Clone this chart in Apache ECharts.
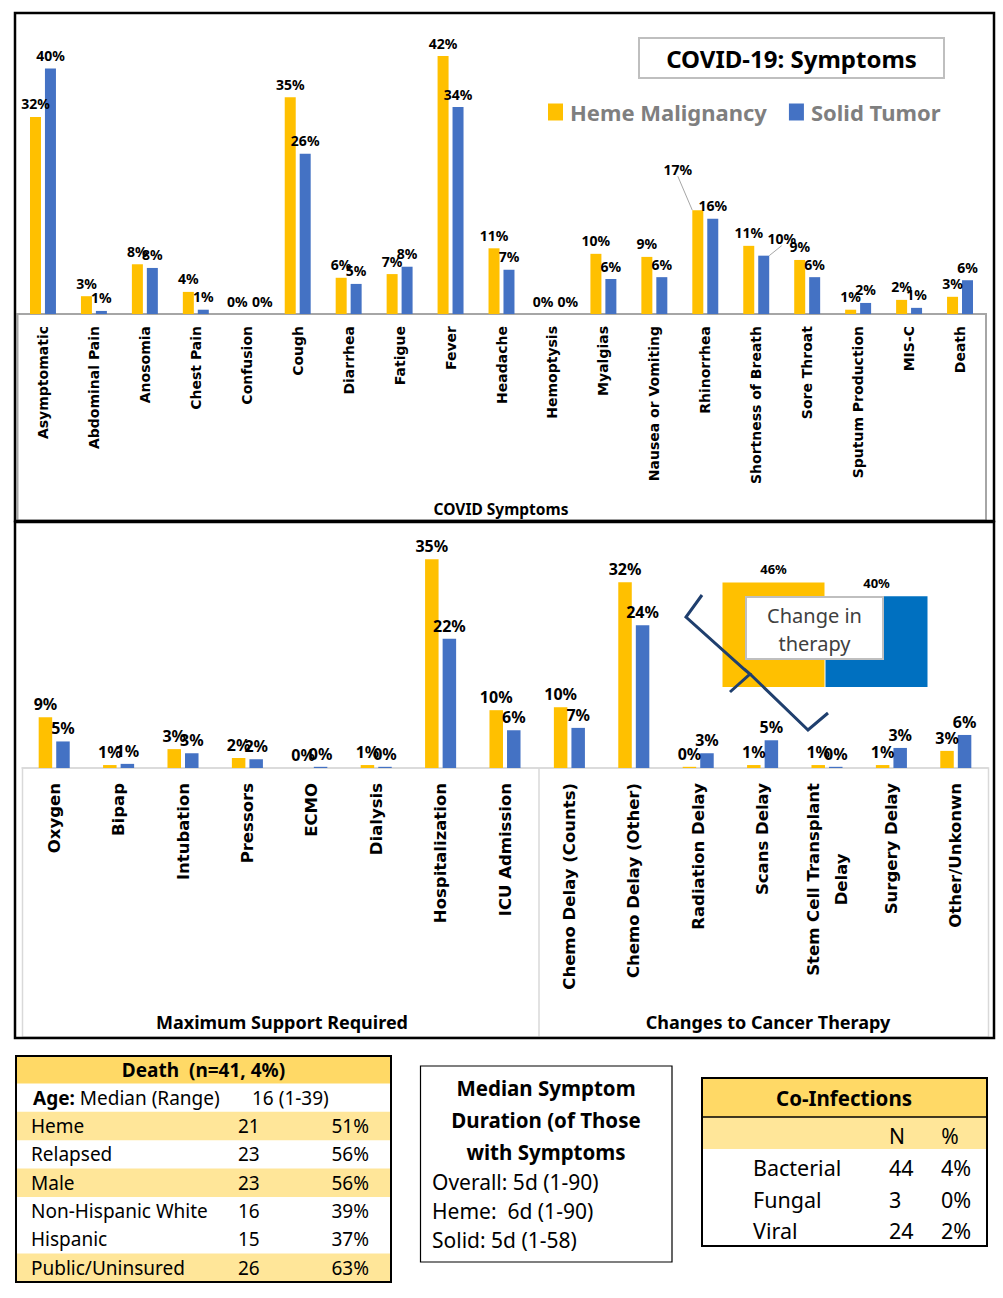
<!DOCTYPE html>
<html>
<head>
<meta charset="utf-8">
<script src="https://cdn.jsdelivr.net/npm/echarts@6/dist/echarts.min.js"></script>
<style>
html,body{margin:0;padding:0;background:#fff;}
#c{width:1003px;height:1298px;}
</style>
</head>
<body>
<div id="c"></div>
<script>
// ---------- DATA ----------
var seriesNames = ['Heme Malignancy', 'Solid Tumor'];
var symptomCats = ['Asymptomatic','Abdominal Pain','Anosomia','Chest Pain','Confusion','Cough','Diarrhea','Fatigue','Fever','Headache','Hemoptysis','Myalgias','Nausea or Vomiting','Rhinorrhea','Shortness of Breath','Sore Throat','Sputum Production','MIS-C','Death'];
var symptomHeme  = [32.1, 2.9, 8.1, 3.6, 0, 35.3, 5.9, 6.5, 42, 10.7, 0, 9.8, 9.3, 16.9, 11.1, 8.8, 0.7, 2.3, 2.8];
var symptomSolid = [40, 0.5, 7.5, 0.7, 0, 26.1, 4.9, 7.7, 33.7, 7.2, 0, 5.7, 6.0, 15.5, 9.5, 6.0, 1.8, 1.0, 5.5];

var supportCats = ['Oxygen','Bipap','Intubation','Pressors','ECMO','Dialysis','Hospitalization','ICU Admission','Chemo Delay (Counts)','Chemo Delay (Other)','Radiation Delay','Scans Delay','Stem Cell Transplant\nDelay','Surgery Delay','Other/Unkonwn'];
var supportHeme  = [8.6, 0.5, 3.2, 1.7, 0, 0.5, 35.4, 9.8, 10.3, 31.5, 0.2, 0.5, 0.5, 0.5, 2.9];
var supportSolid = [4.5, 0.7, 2.5, 1.5, 0.2, 0.2, 21.9, 6.4, 6.8, 24.2, 2.5, 4.7, 0.2, 3.4, 5.6];
var groupLabels = ['Maximum Support Required', 'Changes to Cancer Therapy'];

var changeCats = ['Heme Malignancy', 'Solid Tumor'];
var changeValues = [46, 40];

var deathTitle = 'Death\u00a0 (n=41, 4%)';
var deathAgeLabel = 'Median (Range)';
var deathAgeValue = '16 (1-39)';
var deathLabels = ['Heme','Relapsed','Male','Non-Hispanic White','Hispanic','Public/Uninsured'];
var deathN = [21, 23, 23, 16, 15, 26];
var deathPct = ['51%','56%','56%','39%','37%','63%'];

var durationTitle = ['Median Symptom','Duration (of Those','with Symptoms'];
var durationLines = ['Overall: 5d (1-90)','Heme:\u00a0 6d (1-90)','Solid: 5d (1-58)'];

var coTitle = 'Co-Infections';
var coLabels = ['Bacterial','Fungal','Viral'];
var coN = [44, 3, 24];
var coPct = ['4%','0%','2%'];

// ---------- STYLE ----------
var YEL = '#FFC000', BLU = '#4472C4', BLU2 = '#0070C0';
var F = 'Noto Sans';
var AXF = 'DejaVu Sans';

function pct(p){ return Math.round(p.value) + '%'; }

var chart = echarts.init(document.getElementById('c'), null, {renderer:'svg', width:1003, height:1298});

var g = [];
function txt(x, y, s, o){
  o = o || {};
  g.push({type:'text', x:x, y:y, z:o.z||20, style:{text:s, fill:o.fill||'#000', font:(o.bold?'bold ':'') + (o.size||19) + 'px "' + (o.family||F) + '"', align:o.align||'left', verticalAlign:'middle', lineHeight:o.lineHeight, rich:o.rich}});
}
function rect(x, y, w, h, o){
  g.push({type:'rect', z:o.z||5, shape:{x:x, y:y, width:w, height:h}, style:{fill:o.fill||'none', stroke:o.stroke||null, lineWidth:o.lw||0}});
}
function line(x1,y1,x2,y2,o){
  g.push({type:'line', z:o.z||10, shape:{x1:x1,y1:y1,x2:x2,y2:y2}, style:{stroke:o.stroke, lineWidth:o.lw}});
}

// gray label boxes
rect(17.5, 314, 968.5, 206.5, {stroke:'#a6a6a6', lw:2, z:2});
rect(22.5, 768, 966, 269, {stroke:'#d9d9d9', lw:1.5, z:2});
line(539, 768, 539, 1037, {stroke:'#d9d9d9', lw:1.5, z:2});
// frames
rect(15, 13, 979, 508, {stroke:'#000', lw:2.5, z:30});
rect(15, 522, 979, 516, {stroke:'#000', lw:2.5, z:30});
// title box
rect(639, 38, 305, 40, {stroke:'#bfbfbf', lw:2, z:8, fill:'#fff'});
// axis group names
txt(501, 509, 'COVID Symptoms', {bold:true, size:15.5, align:'center'});
txt(282, 1022, groupLabels[0], {bold:true, size:18, align:'center'});
txt(768, 1022, groupLabels[1], {bold:true, size:18, align:'center'});

// change in therapy box + brace
rect(746, 597, 137, 62, {stroke:'#bfbfbf', lw:2, fill:'#fff', z:15});
txt(814.5, 629, 'Change in\ntherapy', {size:20, align:'center', fill:'#404040', lineHeight:28});
g.push({type:'polyline', z:25, shape:{points:[[702,595],[686,617],[744,669],[750,674],[730,692]]}, style:{stroke:'#1f3f6e', lineWidth:3, fill:'none'}});
g.push({type:'polyline', z:25, shape:{points:[[750,674],[808,730],[828,713]]}, style:{stroke:'#1f3f6e', lineWidth:3, fill:'none'}});

// Death table
var dx0 = 16, dy0 = 1056, dw = 375, rowH = 28.35;
var deathHighlight = [0,1,0,1,0,0,1];
rect(dx0, dy0, dw, 27.5, {fill:'#FFD966', z:4});
for (var i = 0; i < 7; i++){
  if (deathHighlight[i]) rect(dx0, 1083.5 + i*rowH, dw, rowH, {fill:'#FFE699', z:4});
}
rect(dx0, dy0, dw, 226, {stroke:'#000', lw:2, z:12});
txt(203.5, 1070, deathTitle, {bold:true, size:19, align:'center'});
txt(33, 1098, '{b|Age:} ' + deathAgeLabel, {size:19, rich:{b:{fontWeight:'bold', fontSize:19, fontFamily:F}}});
txt(252, 1098, deathAgeValue, {size:19});
for (var j = 0; j < deathLabels.length; j++){
  var cy = 1083.5 + (j+1)*rowH + rowH/2;
  txt(31, cy, deathLabels[j], {size:19});
  txt(238, cy, String(deathN[j]), {size:19});
  txt(369, cy, deathPct[j], {size:19, align:'right'});
}

// Median duration box
rect(420.5, 1066, 251.5, 196, {stroke:'#000', lw:1.2, z:12});
var dTY = [1088, 1120, 1152];
for (var k = 0; k < durationTitle.length; k++) txt(546, dTY[k], durationTitle[k], {bold:true, size:20.5, align:'center'});
var dLY = [1182, 1211, 1240];
for (var m = 0; m < durationLines.length; m++) txt(432, dLY[m], durationLines[m], {size:21});

// Co-infections table
rect(702, 1078, 285, 39, {fill:'#FFD966', z:4});
rect(702, 1117, 285, 32, {fill:'#FFE699', z:4});
line(702, 1117, 987, 1117, {stroke:'#000', lw:1.5, z:12});
rect(702, 1078, 285, 168, {stroke:'#000', lw:2, z:12});
txt(844, 1098, coTitle, {bold:true, size:20.5, align:'center'});
txt(897, 1136, 'N', {size:21, align:'center'});
txt(950, 1136, '%', {size:21, align:'center'});
var coY = [1167, 1199, 1230];
for (var n = 0; n < coLabels.length; n++){
  txt(753, coY[n], coLabels[n], {size:21.5});
  txt(889, coY[n], String(coN[n]), {size:21.5});
  txt(941, coY[n], coPct[n], {size:21.5});
}

var topLabel = {show:true, position:'top', distance:6, formatter:pct, color:'#000', fontFamily:F, fontWeight:'bold', fontSize:14};
var botLabel = {show:true, position:'top', distance:5, formatter:pct, color:'#000', fontFamily:F, fontWeight:'bold', fontSize:16};

// label moved with a guide line: Rhinorrhea (heme) and Shortness of Breath (solid)
var hemeTopData = symptomHeme.map(function(v, i){ return {value:v, labelLine:{show: i === 13}}; });
var solidTopData = symptomSolid.map(function(v, i){ return {value:v, labelLine:{show: i === 14}}; });

var option = {
  backgroundColor:'#fff',
  animation:false,
  title:{text:'COVID-19: Symptoms', left:791.5, top:58, textAlign:'center', textVerticalAlign:'middle', padding:0, textStyle:{fontFamily:F, fontWeight:'bold', fontSize:24, color:'#000'}, z:10},
  legend:{data:seriesNames, left:543, top:96, icon:'rect', itemWidth:15, itemHeight:17, itemGap:22, textStyle:{fontFamily:F, fontWeight:'bold', fontSize:22, color:'#7f7f7f', padding:[0,0,0,2]}},
  grid:[
    {left:17.5, top:37.7, width:968, height:276.3},
    {left:22, top:532, width:966, height:236},
    {left:722, top:573.5, width:206, height:113.5}
  ],
  xAxis:[
    {type:'category', gridIndex:0, data:symptomCats, axisTick:{show:false}, axisLine:{lineStyle:{color:'#a6a6a6', width:2}},
     axisLabel:{interval:0, rotate:90, margin:12, color:'#000', fontFamily:AXF, fontWeight:'bold', fontSize:14}},
    {type:'category', gridIndex:1, data:supportCats, axisTick:{show:false}, axisLine:{lineStyle:{color:'#d9d9d9', width:1.5}},
     axisLabel:{interval:0, rotate:90, margin:15, color:'#000', fontFamily:AXF, fontWeight:'bold', fontSize:16.5,
       formatter:function(v){ if (v.indexOf('\n') >= 0){ var p = v.split('\n'); return '{a|' + p[0] + '}\n{c|' + p[1] + '}'; } return v; },
       rich:{a:{fontFamily:AXF, fontWeight:'bold', fontSize:16.5, lineHeight:28, color:'#000'}, c:{fontFamily:AXF, fontWeight:'bold', fontSize:16.5, lineHeight:28, align:'center', color:'#000'}}}},
    {type:'category', gridIndex:2, data:changeCats, show:false}
  ],
  yAxis:[
    {type:'value', gridIndex:0, min:0, max:45, show:false},
    {type:'value', gridIndex:1, min:0, max:40, show:false},
    {type:'value', gridIndex:2, min:0, max:50, show:false}
  ],
  series:[
    {name:seriesNames[0], type:'bar', xAxisIndex:0, yAxisIndex:0, data:hemeTopData, barWidth:11, barGap:'36%', itemStyle:{color:YEL}, label:topLabel,
     labelLine:{show:true, lineStyle:{color:'#a6a6a6', width:1}},
     labelLayout:function(p){ if (p.dataIndex === 13) return {dx:-20, dy:-28}; if (p.dataIndex === 4 || p.dataIndex === 10) return {dx:-2}; return {}; }},
    {name:seriesNames[1], type:'bar', xAxisIndex:0, yAxisIndex:0, data:solidTopData, barWidth:11, barGap:'36%', itemStyle:{color:BLU}, label:topLabel,
     labelLine:{show:true, lineStyle:{color:'#a6a6a6', width:1}},
     labelLayout:function(p){ if (p.dataIndex === 14) return {dx:18, dy:-4}; if (p.dataIndex === 4 || p.dataIndex === 10) return {dx:8}; return {}; }},
    {name:seriesNames[0], type:'bar', xAxisIndex:1, yAxisIndex:1, data:supportHeme, barWidth:13.5, barGap:'30%', itemStyle:{color:YEL}, label:botLabel},
    {name:seriesNames[1], type:'bar', xAxisIndex:1, yAxisIndex:1, data:supportSolid, barWidth:13.5, barGap:'30%', itemStyle:{color:BLU}, label:botLabel},
    {name:'Change in therapy', type:'bar', xAxisIndex:2, yAxisIndex:2, data:changeValues, barWidth:102,
     itemStyle:{color:function(p){ return [YEL, BLU2][p.dataIndex]; }},
     label:{show:true, position:'top', distance:7, formatter:pct, color:'#000', fontFamily:F, fontWeight:'bold', fontSize:13}}
  ],
  graphic:{elements:g}
};
chart.setOption(option);
</script>
</body>
</html>
